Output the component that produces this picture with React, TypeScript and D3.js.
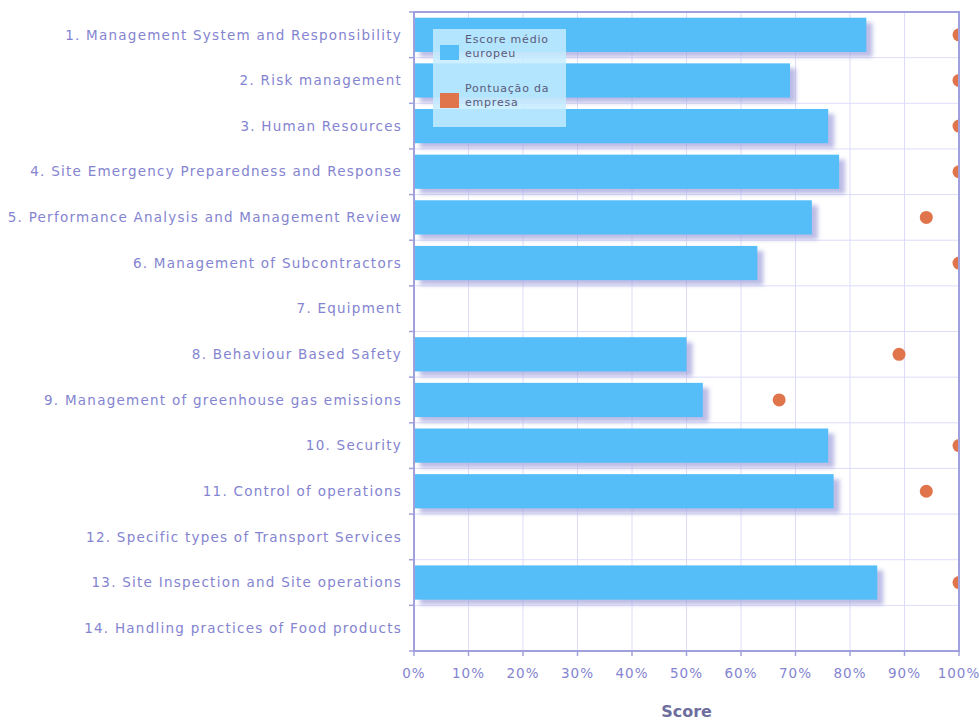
import React from "react";
import * as d3 from "d3";

const categories = [
  "1. Management System and Responsibility",
  "2. Risk management",
  "3. Human Resources",
  "4. Site Emergency Preparedness and Response",
  "5. Performance Analysis and Management Review",
  "6. Management of Subcontractors",
  "7. Equipment",
  "8. Behaviour Based Safety",
  "9. Management of greenhouse gas emissions",
  "10. Security",
  "11. Control of operations",
  "12. Specific types of Transport Services",
  "13. Site Inspection and Site operations",
  "14. Handling practices of Food products",
];
const europeanAvg: (number | null)[] = [83, 69, 76, 78, 73, 63, null, 50, 53, 76, 77, null, 85, null];
const companyScore: (number | null)[] = [100, 100, 100, 100, 94, 100, null, 89, 67, 100, 94, null, 100, null];
const xTicks = [0, 10, 20, 30, 40, 50, 60, 70, 80, 90, 100];
const legendLabels = [["Escore médio", "europeu"], ["Pontuação da", "empresa"]];
const axisTitle = "Score";

const W = 979, H = 720;
const M = { left: 414, right: 20, top: 12, bottom: 69 };

export default function App() {
  const x = d3.scaleLinear().domain([0, 100]).range([M.left, W - M.right]);
  const y = d3.scaleBand().domain(categories).range([M.top, H - M.bottom]).paddingInner(0.25).paddingOuter(0.125);
  const step = y.step();
  const bandTop = (i: number) => M.top + i * step;
  const font = "'DejaVu Sans', Verdana, sans-serif";
  const labelColor = "#8484d0";
  const axisColor = "#a0a0dd";
  const gridColor = "#dcdcfa";
  const pw = W - M.right - M.left;
  const ph = H - M.bottom - M.top;
  return (
    <svg width={W} height={H} style={{ position: "absolute", left: 0, top: 0, background: "#fff" }}>
      <defs>
        <filter id="blur" x="-10%" y="-30%" width="120%" height="160%">
          <feGaussianBlur stdDeviation="2" />
        </filter>
        <clipPath id="plot">
          <rect x={M.left} y={M.top} width={pw} height={ph} />
        </clipPath>
      </defs>
      {/* grid */}
      {xTicks.map((t) => (
        <line key={"gx" + t} x1={x(t)} x2={x(t)} y1={M.top} y2={H - M.bottom} stroke={gridColor} strokeWidth={1} />
      ))}
      {categories.map((c, i) => (
        <line key={"gy" + i} x1={M.left} x2={W - M.right} y1={bandTop(i)} y2={bandTop(i)} stroke={gridColor} strokeWidth={1} />
      ))}
      {/* bars */}
      <g>
        {categories.map((c, i) => {
          const v = europeanAvg[i];
          if (v == null) return null;
          return (
            <g key={"b" + i}>
              <rect x={x(0) + 6} y={(y(c) as number) + 5} width={x(v) - x(0)} height={y.bandwidth()} fill="#a0a0dc" opacity={0.7} filter="url(#blur)" />
              <rect x={x(0)} y={y(c)} width={x(v) - x(0)} height={y.bandwidth()} fill="#55bef8" />
            </g>
          );
        })}
      </g>
      {/* dots */}
      <g clipPath="url(#plot)">
        {categories.map((c, i) => {
          const v = companyScore[i];
          if (v == null) return null;
          return <circle key={"d" + i} cx={x(v)} cy={(y(c) as number) + y.bandwidth() / 2} r={6.5} fill="#e0744a" />;
        })}
      </g>
      {/* axes frame */}
      <rect x={M.left} y={M.top} width={pw} height={ph} fill="none" stroke={axisColor} strokeWidth={2} />
      {categories.map((c, i) => (
        <line key={"ty" + i} x1={M.left - 5} x2={M.left} y1={bandTop(i)} y2={bandTop(i)} stroke={axisColor} strokeWidth={1.5} />
      ))}
      <line x1={M.left - 5} x2={M.left} y1={H - M.bottom} y2={H - M.bottom} stroke={axisColor} strokeWidth={1.5} />
      {xTicks.map((t) => (
        <line key={"tx" + t} x1={x(t)} x2={x(t)} y1={H - M.bottom} y2={H - M.bottom + 5} stroke={axisColor} strokeWidth={1.5} />
      ))}
      {/* category labels */}
      {categories.map((c) => (
        <text key={"l" + c} x={M.left - 12} y={(y(c) as number) + y.bandwidth() / 2} dy="0.35em" textAnchor="end" fontFamily={font} fontSize={13.5} letterSpacing={1.25} fill={labelColor}>
          {c}
        </text>
      ))}
      {xTicks.map((t) => (
        <text key={"xl" + t} x={x(t)} y={H - M.bottom + 22} dy="0.35em" textAnchor="middle" fontFamily={font} fontSize={13.5} letterSpacing={1} fill={labelColor}>
          {t + "%"}
        </text>
      ))}
      <text x={(M.left + W - M.right) / 2} y={717} textAnchor="middle" fontFamily={font} fontSize={16} fontWeight="bold" fill="#6e6e9e">
        {axisTitle}
      </text>
      {/* legend */}
      <g>
        <rect x={433} y={29} width={133} height={98} fill="#c4ecff" opacity={0.85} />
        <rect x={440} y={45} width={19} height={15} fill="#55bef8" />
        <rect x={440} y={93} width={19} height={15} fill="#e0744a" />
        {legendLabels.map((lines, k) => (
          <text key={"lg" + k} x={465} y={43 + k * 49} fontFamily={font} fontSize={11} letterSpacing={0.8} fill="#5a5a7a">
            {lines.map((ln, j) => (
              <tspan key={j} x={465} dy={j === 0 ? 0 : 14}>{ln}</tspan>
            ))}
          </text>
        ))}
      </g>
    </svg>
  );
}
